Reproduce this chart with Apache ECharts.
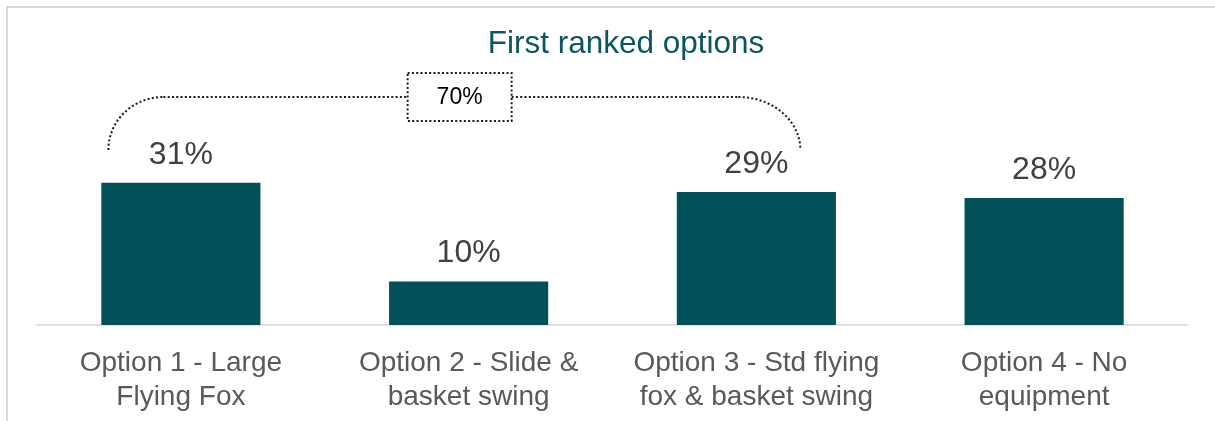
<!DOCTYPE html>
<html>
<head>
<meta charset="utf-8">
<script src="https://cdn.jsdelivr.net/npm/echarts@6/dist/echarts.min.js"></script>
<style>html,body{margin:0;padding:0;background:#fff}#c{width:1215px;height:421px}</style>
</head>
<body>
<div id="c"></div>
<script>
const categories = ["Option 1 - Large\nFlying Fox", "Option 2 - Slide &\nbasket swing", "Option 3 - Std flying\nfox & basket swing", "Option 4 - No\nequipment"];
const values = [31.1, 9.5, 29.1, 27.8];
const bracketLabel = "70%";

const chart = echarts.init(document.getElementById('c'));
const BAR = '#01505A';
const FONT = 'Liberation Sans, Arial, sans-serif';
chart.setOption({
  animation: false,
  title: {
    text: 'First ranked options', left: 621, top: 23, textAlign: 'center',
    textStyle: { fontFamily: FONT, fontSize: 31.5, fontWeight: 'normal', color: '#0B5560' }
  },
  grid: { left: 37, right: 27, top: 165, bottom: 96 },
  xAxis: {
    type: 'category', data: categories,
    axisLine: { lineStyle: { color: '#d9d9d9', width: 1.5 } },
    axisTick: { show: false },
    axisLabel: { margin: 21, fontFamily: FONT, fontSize: 28, lineHeight: 34, color: '#595959', interval: 0 }
  },
  yAxis: { type: 'value', min: 0, max: 35, show: false, splitLine: { show: false } },
  series: [{
    type: 'bar', data: values, barWidth: '55.3%',
    itemStyle: { color: BAR },
    label: {
      show: true, position: 'top', distance: 12, formatter: p => Math.round(p.value) + '%',
      fontFamily: FONT, fontSize: 32, color: '#404040'
    }
  }]
});

function drawBracket() {
  const x1 = chart.convertToPixel({ xAxisIndex: 0 }, 0);
  const x3 = chart.convertToPixel({ xAxisIndex: 0 }, 2);
  const L = x1 - 72.5, R = x3 + 44;
  const yTop = 97, yEnd = 150;
  const bx = (x1 + x3) / 2 - 9, bw = 104, bh = 48;
  const dash = { stroke: '#1a1a1a', lineWidth: 2, lineDash: [2, 2.3], fill: null };
  chart.setOption({
    graphic: [
      { type: 'rect', shape: { x: 7, y: 7, width: 1230, height: 440 }, style: { stroke: '#d9d9d9', lineWidth: 2, fill: null }, silent: true },
      { type: 'bezierCurve', shape: { x1: L, y1: yEnd, cpx1: L, cpy1: yEnd - 29.3, cpx2: L + 24.6, cpy2: yTop, x2: L + 55, y2: yTop }, style: dash, silent: true },
      { type: 'line', shape: { x1: L + 55, y1: yTop, x2: bx - bw / 2, y2: yTop }, style: dash, silent: true },
      { type: 'line', shape: { x1: bx + bw / 2, y1: yTop, x2: R - 62, y2: yTop }, style: dash, silent: true },
      { type: 'bezierCurve', shape: { x1: R - 62, y1: yTop, cpx1: R - 27.8, cpy1: yTop, cpx2: R, cpy2: yEnd - 29.3, x2: R, y2: yEnd }, style: dash, silent: true },
      { type: 'rect', shape: { x: bx - bw / 2, y: yTop - bh / 2, width: bw, height: bh }, style: dash, silent: true },
      { type: 'text', x: bx, y: yTop + 1, style: { text: bracketLabel, align: 'center', verticalAlign: 'middle', fontFamily: FONT, fontSize: 23, fill: '#000' }, silent: true }
    ]
  });
}
drawBracket();
</script>
</body>
</html>
